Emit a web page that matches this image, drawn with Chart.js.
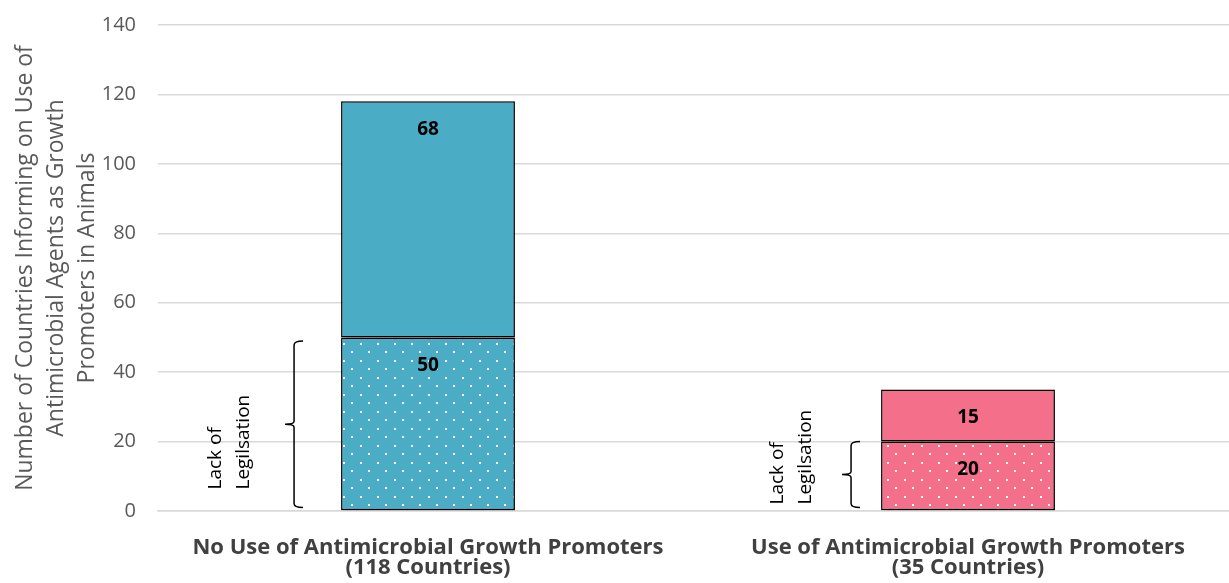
<!DOCTYPE html>
<html><head><meta charset="utf-8">
<script src="https://cdn.jsdelivr.net/npm/chart.js@4/dist/chart.umd.min.js"></script>
<style>html,body{margin:0;padding:0;overflow:hidden;background:#fff}#wrap{width:1240px;height:583px;position:relative}</style>
</head><body><div id="wrap"><canvas id="c"></canvas></div>
<script>
const categories = [["No Use of Antimicrobial Growth Promoters","(118 Countries)"],["Use of Antimicrobial Growth Promoters","(35 Countries)"]];
const lackOfLegislation = [50, 20];
const otherCountries = [68, 15];
const yTicks = [0,20,40,60,80,100,120,140];
const braceTop = [49, 20];
const braceBottom = [1, 1];
const braceText = ["Lack of","Legilsation"];
const yTitle = ["Number of Countries Informing on Use of","Antimicrobial Agents as Growth","Promoters in Animals"];

const FONT = "'Open Sans'";
const blue = '#4BACC6', pink = '#F4708A';
function dotPattern(bg){
  const t = document.createElement('canvas'); t.width = 17; t.height = 17;
  const g = t.getContext('2d');
  g.fillStyle = bg; g.fillRect(0,0,17,17);
  g.fillStyle = '#ffffff';
  g.fillRect(3,3,2,2); g.fillRect(11,11,2,2);
  return document.getElementById('c').getContext('2d').createPattern(t,'repeat');
}

const shadowPlugin = {
  id:'shadow',
  beforeDatasetDraw(chart){ const c=chart.ctx; c.save(); c.shadowColor='rgba(0,0,0,0.35)'; c.shadowBlur=5; c.shadowOffsetX=3; c.shadowOffsetY=3; },
  afterDatasetDraw(chart){ chart.ctx.restore(); }
};

const labelPlugin = {
  id:'labels',
  afterDatasetsDraw(chart){
    const c = chart.ctx;
    c.save();
    c.font = 'bold 19px ' + FONT; c.fillStyle = '#000'; c.textAlign='center'; c.textBaseline='middle';
    chart.data.datasets.forEach((ds,di)=>{
      chart.getDatasetMeta(di).data.forEach((bar,i)=>{
        c.fillText(String(ds.data[i]), bar.x, bar.y + 28);
      });
    });
    const ys = chart.scales.y;
    const meta = chart.getDatasetMeta(0);
    const xoff = [47, 30];
    const txoff = [[125, 97],[103, 75]];
    const tUp = [18, 3];
    meta.data.forEach((bar,i)=>{
      const left = bar.x - bar.width/2;
      const bx = left - xoff[i];
      const yt = ys.getPixelForValue(braceTop[i]);
      const yb = ys.getPixelForValue(braceBottom[i]);
      const ym = (yt+yb)/2;
      c.strokeStyle='#000'; c.lineWidth=1.5;
      c.beginPath();
      c.moveTo(bx+9, yt); c.quadraticCurveTo(bx, yt, bx, yt+4);
      c.lineTo(bx, ym-3); c.quadraticCurveTo(bx, ym, bx-9, ym);
      c.quadraticCurveTo(bx, ym, bx, ym+3);
      c.lineTo(bx, yb-4); c.quadraticCurveTo(bx, yb, bx+9, yb);
      c.stroke();
      c.fillStyle='#000'; c.font='19px ' + FONT; c.textAlign='left'; c.textBaseline='middle';
      braceText.forEach((t,k)=>{
        c.save();
        c.translate(left - txoff[i][k], yb - tUp[i]);
        c.rotate(-Math.PI/2);
        c.fillText(t, 0, 0);
        c.restore();
      });
    });
    c.restore();
  }
};

new Chart(document.getElementById('c'), {
  type:'bar',
  data:{
    labels:categories,
    datasets:[
      {label:'Lack of Legislation', data:lackOfLegislation, backgroundColor:[dotPattern(blue), dotPattern(pink)], borderColor:'#000', borderWidth:1.5, borderSkipped:false, categoryPercentage:1, barPercentage:0.322},
      {label:'Other', data:otherCountries, backgroundColor:[blue, pink], borderColor:'#000', borderWidth:1.5, borderSkipped:false, categoryPercentage:1, barPercentage:0.322}
    ]
  },
  options:{
    responsive:true, maintainAspectRatio:false, animation:false,
    layout:{padding:{top:25,right:2,left:0,bottom:0}},
    plugins:{legend:{display:false}, tooltip:{enabled:false}},
    scales:{
      x:{stacked:true,
        grid:{display:false, drawTicks:false}, border:{color:'#d9d9d9', width:1.5},
        ticks:{color:'#404040', font:{family:FONT, weight:'bold', size:22, lineHeight:0.9}, padding:27, maxRotation:0},
        afterFit(s){ s.height = 72; s.paddingLeft = 0; s.paddingRight = 0; }
      },
      y:{stacked:true, min:0, max:140,
        afterBuildTicks(s){ s.ticks = yTicks.map(v=>({value:v})); },
        grid:{color:'#d9d9d9', lineWidth:1.5, drawTicks:false}, border:{display:false},
        ticks:{color:'#595959', font:{family:FONT, size:20}, padding:22},
        title:{display:true, text:yTitle, color:'#595959', font:{family:FONT, size:23, lineHeight:1.35}, padding:{top:10,bottom:0}},
        afterFit(s){ s.width = 158; s.paddingTop = 0; s.paddingBottom = 0; }
      }
    }
  },
  plugins:[shadowPlugin, labelPlugin]
});
</script></body></html>
